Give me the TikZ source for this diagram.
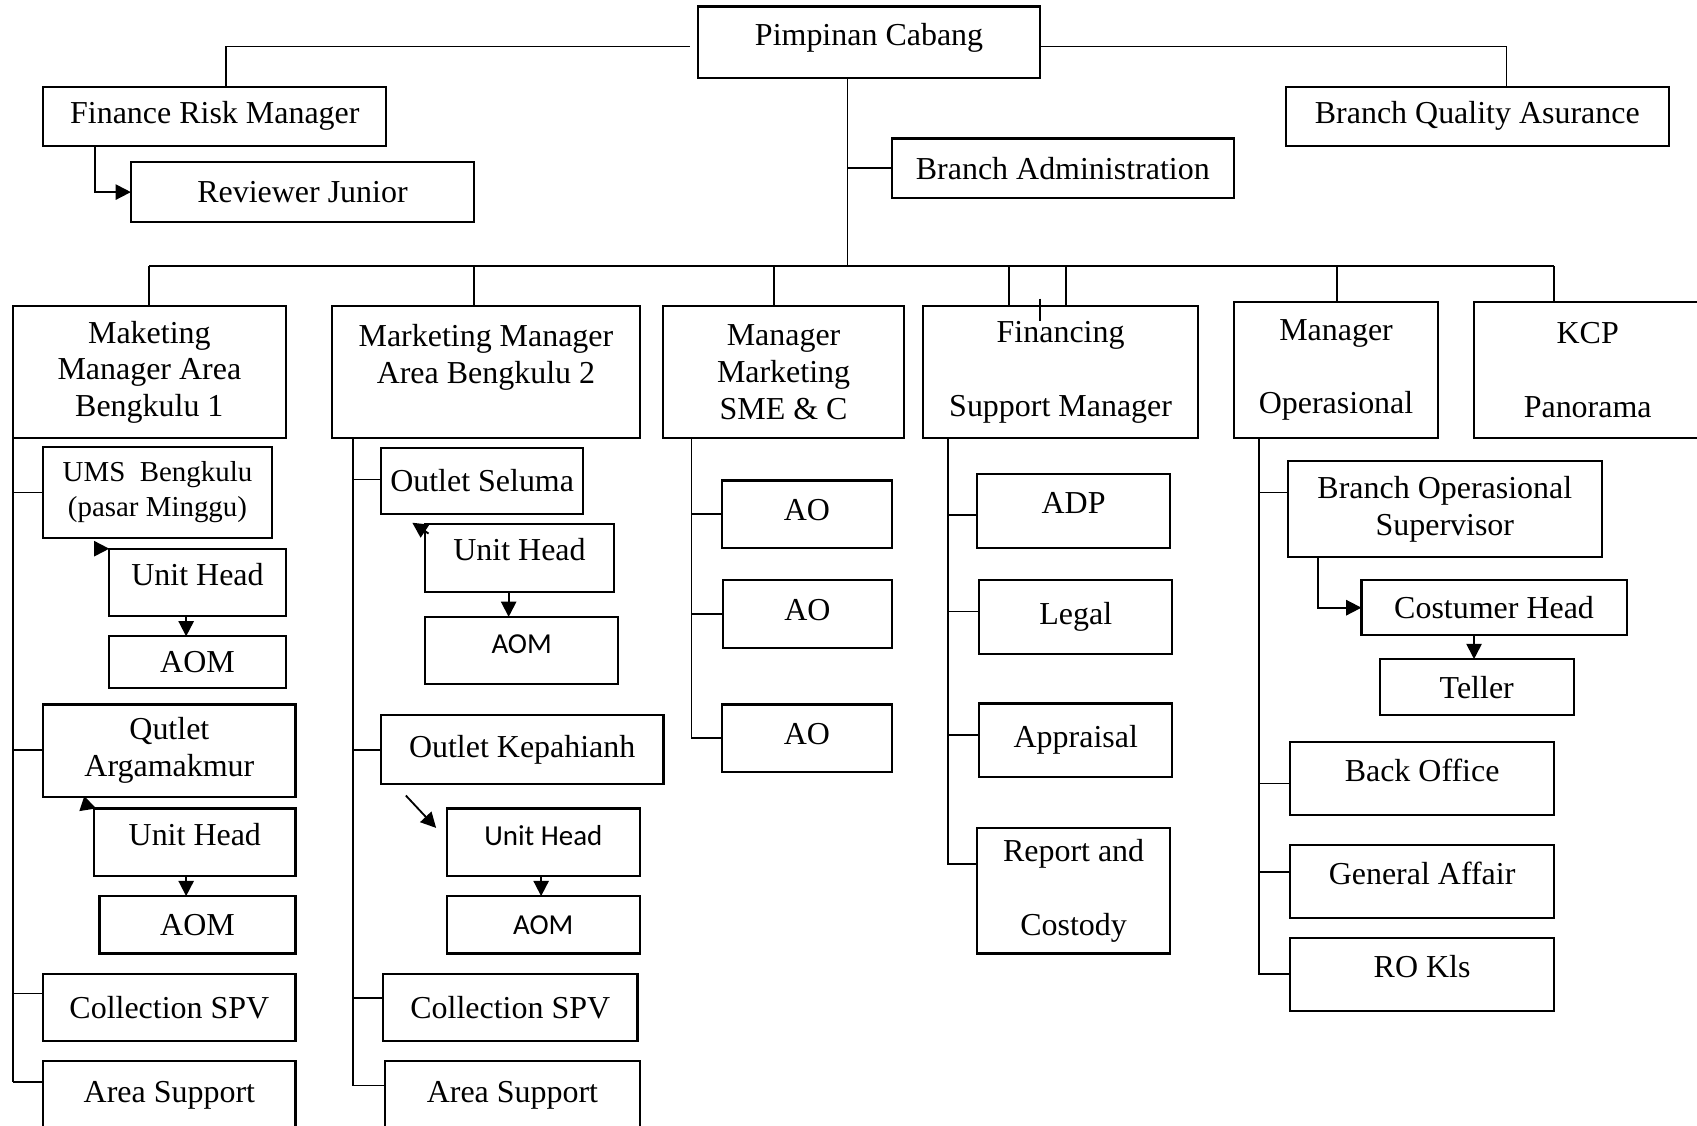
\documentclass[tikz,border=0pt]{standalone}
\usepackage{fontspec}
\setmainfont{Liberation Serif}
\newfontfamily\calibri{Carlito}
\usetikzlibrary{positioning,calc,arrows.meta}

\begin{document}
\begin{tikzpicture}[
  x=0.0125cm, y=-0.0125cm,
  font=\fontsize{10.5}{12.1}\selectfont,
  line width=0.6pt,
  box/.style={draw, line width=0.7pt, inner sep=1pt, outer sep=0pt, align=center},
  sbox/.style={box, font=\calibri\fontsize{9.5}{11}\selectfont},
  hi/.style={text height=7pt, text depth=5pt},
  geom/.style n args={4}{at={({(#1+#3)/2},{(#2+#4)/2})},
    minimum width={(#3-#1)*0.35566pt}, minimum height={(#4-#2)*0.35566pt}},
  arrow/.style={-{Triangle[length=5pt,width=5pt]}}
]
\useasboundingbox (0,0) rectangle (1568,1040);

% Top level
\node[box, hi, geom={645}{6}{961}{72}] (pc) {Pimpinan Cabang};
\node[box, geom={40}{80}{357}{135}] (frm) {Finance Risk Manager};
\node[box, geom={121}{150}{438}{205}] (rj) {Reviewer Junior};
\node[box, geom={1188}{80}{1542}{135}] (bqa) {Branch Quality Asurance};
\node[box, geom={824}{128}{1140}{183}] (ba) {Branch Administration};
\coordinate (bus) at (783,246);

\draw (frm.north -| 209,0) |- ($(pc.west)+(-7,4)$);
\draw (pc.east |- 0,43) -| (bqa.north -| 1392,0);
\draw[arrow] (frm.south -| 88,0) |- (rj.west);
\draw (pc.south -| bus) -- (bus);
\draw (ba.west) -- (ba.west -| bus);

% Managers
\node[box, geom={12}{283}{264}{405}] (mma1) {Maketing\\Manager Area\\Bengkulu 1};
\node[box, geom={307}{283}{591}{405}] (mma2) {Marketing Manager\\Area Bengkulu 2\\~};
\node[box, geom={613}{283}{835}{405}] (sme) {Manager\\Marketing\\SME \& C};
\node[box, geom={853}{283}{1107}{405}] (fsm) {Financing\\[12pt]Support Manager};
\node[box, geom={1140}{279}{1329}{405}] (mo) {Manager\\[12pt]Operasional};
\node[box, geom={1362}{279}{1572}{405}] (kcp) {KCP\\[12pt]Panorama};

\draw (mma1.north |- bus) -- (bus -| 1436,0);
\foreach \n/\x in {mma1/138, mma2/438, sme/715, fsm/932, fsm/985, mo/1235, kcp/1436}
  \draw (bus -| \x,0) -- (\n.north -| \x,0);
\draw (fsm.north -| 961,0) ++(0,-7) -- ++(0,21);

% Area Bengkulu 1
\node[box, geom={40}{413}{251}{497}, font=\fontsize{9.5}{11.4}\selectfont] (ums) {UMS~ Bengkulu\\(pasar Minggu)};
\node[box, hi, geom={101}{507}{264}{569}] (uh1) {Unit Head};
\node[box, geom={101}{588}{264}{636}] (aom1) {AOM};
\node[box, geom={40}{651}{273}{736}] (qa) {Qutlet\\Argamakmur};
\node[box, hi, geom={87}{747}{273}{809}] (uh2) {Unit Head};
\node[box, geom={92}{828}{273}{881}] (aom2) {AOM};
\node[box, geom={40}{900}{273}{962}] (cs1) {Collection SPV};
\node[box, geom={40}{980}{273}{1045}] (as1) {Area Support};

\coordinate (t1) at (mma1.south west);
\draw (t1) -- (t1 |- 0,1000);
\foreach \n/\y in {ums/455, qa/693, cs1/918, as1/1000}
  \draw (t1 |- 0,\y) -- (\n.west |- 0,\y);
\draw[arrow] ($(uh1.north west)+(-14,0)$) -- (uh1.north west);
\draw[arrow] (uh1.south -| 172,0) -- (aom1.north -| 172,0);
\draw[arrow] ($(uh2.north west)+(-10,-4)$) -- ($(uh2.north west)+(2,0)$);
\draw[arrow] (uh2.south -| 172,0) -- (aom2.north -| 172,0);

% Area Bengkulu 2
\node[box, geom={352}{414}{539}{475}] (os) {Outlet Seluma};
\node[box, hi, geom={393}{484}{567}{547}] (uh3) {Unit Head};
\node[sbox, hi, geom={393}{570}{571}{632}] (aom3) {AOM};
\node[box, geom={352}{661}{613}{724}] (ok) {Outlet Kepahianh};
\node[sbox, hi, geom={413}{747}{591}{809}] (uh4) {Unit Head};
\node[sbox, geom={413}{828}{591}{881}] (aom4) {AOM};
\node[box, geom={354}{900}{589}{962}] (cs2) {Collection SPV};
\node[box, geom={356}{980}{591}{1045}] (as2) {Area Support};

\coordinate (t2) at (mma2.south -| 326,0);
\draw (t2) -- (t2 |- 0,1003);
\foreach \n/\y in {os/443, ok/693, cs2/922, as2/1003}
  \draw (t2 |- 0,\y) -- (\n.west |- 0,\y);
\draw[arrow] ($(uh3.north west)+(3,9)$) -- ($(uh3.north west)+(-12,-1)$);
\draw[arrow] (uh3.south -| 470,0) -- (aom3.north -| 470,0);
\draw[arrow] ($(ok.south west)+(23,11)$) -- ($(uh4.north west)+(-10,18)$);
\draw[arrow] (uh4.south -| 500,0) -- (aom4.north -| 500,0);

% SME
\node[box, text depth=3pt, geom={667}{444}{824}{506}] (ao1) {AO};
\node[box, text depth=3pt, geom={668}{536}{824}{599}] (ao2) {AO};
\node[box, text depth=3pt, geom={667}{651}{824}{713}] (ao3) {AO};

\draw (sme.south -| 639,0) |- (ao3.west);
\foreach \n in {ao1, ao2}
  \draw (\n.west -| 639,0) -- (\n.west);

% Financing support
\node[box, hi, geom={903}{438}{1081}{506}] (adp) {ADP};
\node[box, geom={905}{536}{1083}{604}] (legal) {Legal};
\node[box, geom={905}{650}{1083}{718}] (appr) {Appraisal};
\node[box, geom={903}{765}{1081}{881}] (rc) {Report and\\[12pt]Costody};

\coordinate (t4) at (fsm.south -| 876,0);
\draw (t4) |- (rc.west |- 0,798);
\foreach \n/\y in {adp/476, legal/565, appr/679}
  \draw (t4 |- 0,\y) -- (\n.west |- 0,\y);

% Operasional
\node[box, geom={1190}{426}{1480}{515}] (bos) {Branch Operasional\\Supervisor};
\node[box, geom={1258}{536}{1503}{587}] (ch) {Costumer Head};
\node[box, geom={1275}{609}{1454}{661}] (tel) {Teller};
\node[box, hi, geom={1192}{686}{1436}{753}] (bo) {Back Office};
\node[box, hi, geom={1192}{781}{1436}{848}] (ga) {General Affair};
\node[box, hi, geom={1192}{867}{1436}{934}] (ro) {RO Kls};

\coordinate (t5) at (mo.south -| 1163,0);
\draw (t5) |- (ro.west |- 0,900);
\foreach \n/\y in {bos/455, bo/724, ga/806}
  \draw (t5 |- 0,\y) -- (\n.west |- 0,\y);
\draw[arrow] (bos.south -| 1218,0) |- (ch.west);
\draw[arrow] (ch.south -| 1362,0) -- (tel.north -| 1362,0);

\end{tikzpicture}
\end{document}
